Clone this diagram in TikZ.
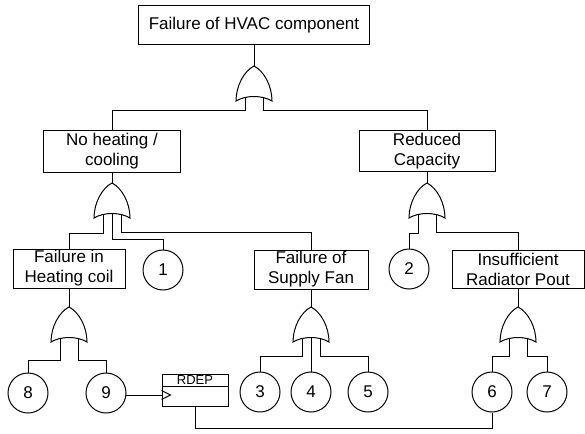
\documentclass[tikz,border=0pt]{standalone}
\usepackage{fontspec}
\setmainfont{Liberation Sans}
\usetikzlibrary{calc}
\tikzset{
    % rectangular event boxes of the fault tree
    eventbox/.style={
        draw,
        line width=1pt,
        rectangle,
        align=center,
        inner sep=0pt,
        font=\fontsize{17}{20}\selectfont
    },
    % basic events, numbered circles
    basicevent/.style={
        draw,
        line width=1pt,
        circle,
        minimum size=40pt,
        inner sep=0pt,
        font=\fontsize{17}{20}\selectfont
    },
    depbox/.style={
        draw,
        line width=1pt,
        minimum width=66pt,
        minimum height=32pt,
        inner sep=0pt
    },
    % OR gate, apex at the origin
    orgate/.pic={
        \draw[line width=1pt,fill=white] (0,0) .. controls (-10,5) and (-18,20) .. (-18,35)
            .. controls (-8,29) and (8,29) .. (18,35)
            .. controls (18,20) and (10,5) .. (0,0) -- cycle;
        \coordinate (-top) at (0,0);
        \coordinate (-l) at (-9,31.6);
        \coordinate (-m) at (0,30.5);
        \coordinate (-r) at (9,31.6);
    }
}
\begin{document}
\begin{tikzpicture}[x=1pt,y=-1pt,line width=1pt]
    \useasboundingbox (0,0) rectangle (585,433);

    \node[eventbox,minimum width=231pt,minimum height=39pt] (top) at (254,25.5) {Failure of HVAC component};
    \node[eventbox,minimum width=137pt,minimum height=42pt] (nohc) at (112,151) {No heating /\\cooling};
    \node[eventbox,minimum width=136pt,minimum height=41pt] (redcap) at (427,151) {Reduced\\Capacity};
    \node[eventbox,minimum width=112pt,minimum height=39pt] (hcoil) at (69,268.5) {Failure in\\Heating coil};
    \node[eventbox,minimum width=114pt,minimum height=39pt] (fan) at (311,269.5) {Failure of\\Supply Fan};
    \node[eventbox,minimum width=132pt,minimum height=38pt] (rad) at (518,269) {Insufficient\\Radiator Pout};

    \node[basicevent] (c1) at (163,270) {1};
    \node[basicevent] (c2) at (409,269) {2};
    \node[basicevent] (c3) at (260,392) {3};
    \node[basicevent] (c4) at (311,392) {4};
    \node[basicevent] (c5) at (368,392) {5};
    \node[basicevent] (c6) at (492,392) {6};
    \node[basicevent] (c7) at (547,392) {7};
    \node[basicevent] (c8) at (28,393) {8};
    \node[basicevent] (c9) at (106,393) {9};

    \pic (g0) at (254,66) {orgate};
    \pic (g1) at (112,183) {orgate};
    \pic (g2) at (427,183) {orgate};
    \pic (g3) at (69,307) {orgate};
    \pic (g4) at (311,307) {orgate};
    \pic (g5) at (518,307) {orgate};

    % outputs into the gates
    \draw (top.south) -- (g0-top);
    \draw (nohc.south) -- (g1-top);
    \draw (redcap.south) -- (g2-top);
    \draw (hcoil.south) -- (g3-top);
    \draw (fan.south) -- (g4-top);
    \draw (rad.south) -- (g5-top);

    % gate inputs
    \draw (g0-l) -- ++(0,13) -| (nohc.north);
    \draw (g0-r) -- ++(0,13) -| (redcap.north);
    \draw (g1-l) -- ++(0,19) -| (hcoil.north);
    \draw (g1-m) -- ++(0,26) -| (c1.north);
    \draw (g1-r) -- ++(0,18) -| (fan.north);
    \draw (g2-l) -- ++(0,19) -| (c2.north);
    \draw (g2-r) -- ++(0,18) -| (rad.north);
    \draw (g3-l) -- ++(0,22) -| (c8.north);
    \draw (g3-r) -- ++(0,22) -| (c9.north);
    \draw (g4-l) -- ++(0,18) -| (c3.north);
    \draw (g4-m) -- (c4.north);
    \draw (g4-r) -- ++(0,18) -| (c5.north);
    \draw (g5-l) -- ++(0,18) -| (c6.north);
    \draw (g5-r) -- ++(0,18) -| (c7.north);

    % dependency gate
    \node[depbox] (rdep) at (195,390) {};
    \node[font=\fontsize{13}{13}\selectfont,inner sep=0pt] (rdeplabel) at ($(rdep.north)+(0,6.5)$) {RDEP};
    \draw ($(rdep.north west)+(0,13)$) -- ($(rdep.north east)+(0,13)$);
    \draw ($(rdep.west)+(0,0.5)$) -- ($(rdep.west)+(9,5)$) -- ($(rdep.west)+(0,9.5)$);
    \draw (c9.-8) -- (c9.-8 -| rdep.west);
    \draw (rdep.south) -- ++(0,22) -| (c6.south);
\end{tikzpicture}
\end{document}
